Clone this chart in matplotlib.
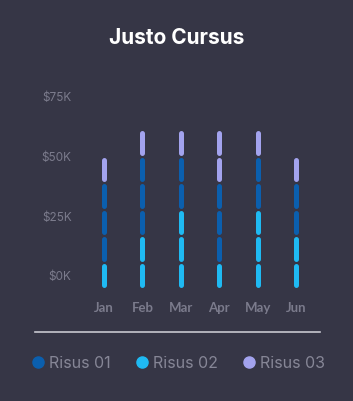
import matplotlib.pyplot as plt
from matplotlib.lines import Line2D

months = ['Jan', 'Feb', 'Mar', 'Apr', 'May', 'Jun']
risus_01 = [30, 30, 20, 30, 20, 20]   # $K
risus_02 = [10, 20, 30, 10, 30, 20]
risus_03 = [10, 10, 10, 20, 10, 10]
y_ticks = [0, 25, 50, 75]
y_labels = ['$0K', '$25K', '$50K', '$75K']

BG = '#363646'
C1, C2, C3 = '#0b5fae', '#1fbaf3', '#a3a3ee'
GREY = '#7b7b8c'
UNIT = 10  # each pill = $10K


def draw_stack(ax):
    # bottom to top: Risus 02, Risus 01, Risus 03
    for i in range(len(months)):
        base = 0
        for vals, col in [(risus_02, C2), (risus_01, C1), (risus_03, C3)]:
            n = int(vals[i] // UNIT)
            for k in range(n):
                y0 = base + k * UNIT + 1.3
                y1 = base + (k + 1) * UNIT - 1.3
                ax.plot([i, i], [y0, y1], color=col, lw=3.6,
                        solid_capstyle='round')
            base += vals[i]


def main():
    fig = plt.figure(figsize=(3.53, 4.02), dpi=100, facecolor=BG)
    ax = fig.add_axes([80 / 353, 106 / 402, 240 / 353, 216 / 402])
    ax.set_facecolor(BG)
    draw_stack(ax)
    ax.set_xlim(-0.625, 5.625)
    ax.set_ylim(-2.3, 79)
    ax.set_xticks(range(len(months)))
    ax.set_xticklabels(months, fontfamily='Lato', fontweight='bold',
                       fontsize=9.5, color=GREY)
    ax.tick_params(axis='x', length=0, pad=4)
    ax.set_yticks([])
    for s in ax.spines.values():
        s.set_visible(False)

    # y labels on their own scale (spaced differently from the pills)
    ax2 = ax.twinx()
    ax2.set_ylim(-8.4, 82.1)
    ax2.yaxis.tick_left()
    ax2.set_yticks(y_ticks)
    ax2.set_yticklabels(y_labels, fontfamily='Inter', fontsize=8.5,
                        color=GREY)
    ax2.tick_params(axis='y', length=0, pad=6)
    for s in ax2.spines.values():
        s.set_visible(False)

    fig.text(0.5, 1 - 38 / 402, 'Justo Cursus', ha='center', va='center',
             fontfamily='Inter', fontweight='bold', fontsize=15,
             color='white')

    fig.add_artist(Line2D([35 / 353, 320 / 353], [1 - 333 / 402] * 2,
                          color='#c8c8d0', lw=1.2))

    handles = [Line2D([], [], ls='', marker='o', ms=8, color=c)
               for c in (C1, C2, C3)]
    leg = fig.legend(handles, ['Risus 01', 'Risus 02', 'Risus 03'],
                     loc='center', bbox_to_anchor=(0.5, 1 - 364 / 402),
                     ncol=3, frameon=False, handletextpad=0.1,
                     columnspacing=1.35, handlelength=1.2,
                     prop={'family': 'Inter', 'size': 11.5})
    for t in leg.get_texts():
        t.set_color('#868696')

    fig.savefig('out.png', facecolor=BG)


if __name__ == '__main__':
    main()
